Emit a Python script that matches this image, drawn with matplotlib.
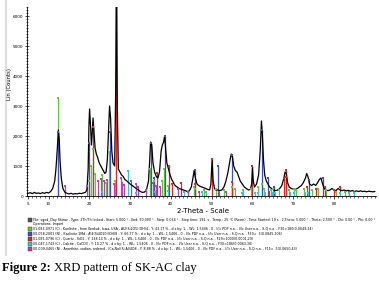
import matplotlib
matplotlib.use('Agg')
import matplotlib.pyplot as plt
from matplotlib.patches import Rectangle
from matplotlib.ticker import MultipleLocator, FixedLocator

two_theta = [5.0, 5.5, 6.0, 6.5, 7.0, 7.5, 8.0, 8.5, 9.0, 9.5, 10.0, 10.5, 11.0, 11.5, 11.8,
             12.1, 12.4, 12.6, 12.8, 13.1, 13.5, 14.0, 14.5, 15.0, 15.5, 16.0, 16.5, 17.0,
             17.5, 18.0, 18.5, 19.0, 19.4, 19.7, 19.9, 20.05, 20.3, 20.5, 20.7, 20.9, 21.1,
             21.4, 21.7, 22.0, 22.3, 22.6, 23.0, 23.4, 23.8, 24.1, 24.4, 24.7, 24.95, 25.2,
             25.5, 25.8, 26.2, 26.45, 26.65, 26.85, 27.1, 27.5, 27.9, 28.3, 28.7, 29.2, 29.6,
             30.0, 30.5, 31.0, 31.5, 32.0, 32.5, 33.0, 33.5, 34.0, 34.5, 34.8, 35.0, 35.3,
             35.6, 36.0, 36.4, 36.8, 37.2, 37.6, 37.9, 38.2, 38.45, 38.7, 39.0, 39.4, 39.8,
             40.2, 40.6, 41.0, 41.5, 42.0, 42.5, 43.0, 43.5, 44.0, 44.5, 45.0, 45.4, 45.7,
             46.0, 46.4, 46.8, 47.2, 47.6, 48.0, 48.5, 49.0, 49.5, 49.8, 50.1, 50.35, 50.7,
             51.0, 51.5, 52.0, 52.5, 53.0, 53.5, 54.0, 54.5, 54.8, 55.1, 55.4, 55.8, 56.2,
             56.6, 57.0, 57.5, 58.0, 58.5, 59.0, 59.5, 59.8, 60.0, 60.2, 60.5, 61.0, 61.5,
             61.9, 62.2, 62.45, 62.7, 63.0, 63.4, 63.8, 64.2, 64.7, 65.2, 65.7, 66.2, 66.7,
             67.2, 67.7, 68.0, 68.3, 68.6, 69.0, 69.5, 70.0, 70.5, 71.0, 71.5, 72.0, 72.5,
             73.0, 73.3, 73.6, 74.0, 74.5, 75.0, 75.5, 76.0, 76.4, 76.8, 77.2, 77.6, 78.0,
             78.5, 79.0, 79.5, 80.0, 80.5, 81.0, 81.5, 82.0, 82.5, 83.0, 83.5, 84.0, 84.5,
             85.0, 85.5, 86.0, 86.5, 87.0, 87.5, 88.0, 88.5, 89.0, 89.5, 90.0]
counts = [90, 110, 80, 120, 90, 100, 80, 110, 90, 120, 100, 150, 250, 500, 900,
          1500, 2200, 1900, 1200, 600, 250, 120, 90, 70, 90, 60, 80, 70,
          90, 80, 100, 120, 200, 900, 2400, 2900, 2300, 1700, 2100, 2600, 2200,
          1600, 1400, 1300, 1150, 1050, 950, 850, 750, 800, 1200, 2200, 3000, 2600,
          1500, 1100, 1000, 3500, 8000, 3000, 900, 800, 700, 650, 550, 500, 450,
          400, 350, 300, 250, 200, 150, 120, 130, 200, 500, 1200, 1800, 1700,
          1100, 800, 650, 600, 800, 1500, 1700, 1800, 2000, 1600, 1100, 900, 700,
          550, 450, 350, 300, 250, 230, 200, 180, 150, 170, 300, 600, 850,
          600, 400, 350, 320, 300, 280, 250, 220, 200, 400, 1200, 500, 250,
          200, 200, 180, 200, 300, 500, 800, 1200, 1400, 1300, 1000, 850, 800,
          650, 500, 400, 300, 250, 200, 220, 400, 950, 500, 300, 400, 700,
          1500, 2500, 2000, 1200, 700, 500, 400, 300, 250, 200, 180, 200, 250,
          350, 600, 800, 750, 450, 300, 250, 230, 220, 250, 300, 350, 450,
          600, 750, 650, 400, 350, 400, 350, 450, 550, 600, 400, 250, 200,
          180, 200, 250, 200, 180, 250, 200, 180, 200, 170, 190, 160, 180,
          150, 170, 150, 170, 150, 160, 140, 160, 150, 140, 150]

# reference sticks per phase
kaol_pos = [12.36, 19.9, 20.4, 20.9, 21.5, 23.1, 24.0, 24.9, 26.4, 34.9, 35.9, 37.7, 38.4, 39.3,
            45.6, 46.0, 48.0, 51.1, 53.0, 54.9, 55.6, 57.8, 59.6, 61.3, 62.3, 62.9, 64.6, 65.0,
            66.6, 68.9, 70.1, 70.8, 72.6, 74.5, 76.0, 78.1, 80.4, 82.6]
kaol_h = [3270, 500, 1000, 1560, 730, 700, 450, 1460, 500, 900, 500, 500, 900, 350,
          300, 250, 200, 250, 200, 300, 250, 200, 250, 300, 400, 250, 200, 250,
          200, 200, 250, 200, 250, 200, 250, 200, 150, 150]
kao1_pos = [12.4, 19.9, 24.95, 35.0, 35.9, 38.45, 45.8, 51.6, 55.0, 62.4, 63.8, 65.4, 73.9, 77.2]
kao1_h = [2150, 1770, 2150, 1770, 600, 2000, 870, 1000, 1370, 2200, 600, 300, 550, 600]
qtz_pos = [20.86, 26.64, 36.54, 39.47, 40.3, 42.45, 45.8, 50.14, 54.87, 59.96, 64.0, 67.74,
           68.14, 68.32, 73.46, 75.66, 77.67, 79.88, 81.5, 83.8, 84.9]
qtz_h = [2300, 12000, 770, 1000, 400, 450, 400, 1230, 470, 1000, 150, 600,
         860, 650, 300, 250, 300, 200, 300, 120, 150]
calc_pos = [23.0, 29.4, 31.4, 36.0, 39.4, 43.2, 47.5, 48.5, 57.4, 60.7, 61.4, 63.1, 64.7,
            65.6, 69.2, 70.3, 72.9, 73.7, 81.5, 83.8, 84.8]
calc_h = [120, 830, 100, 150, 180, 150, 150, 150, 100, 100, 100, 100, 100,
          100, 100, 100, 100, 100, 100, 100, 100]
anor_pos = [14.0, 19.4, 22.0, 22.8, 23.6, 24.3, 26.0, 27.8, 28.0, 28.6, 30.2, 31.5, 32.0,
            33.9, 35.7, 36.3, 37.2, 41.8, 44.3, 47.0, 51.9, 53.6]
anor_h = [330, 330, 500, 570, 500, 550, 400, 600, 450, 380, 500, 400, 300,
          200, 450, 350, 300, 250, 150, 150, 120, 120]

phase_colors = ['#5cc83a', '#3c4fc8', '#e8231e', '#2ec9c9', '#c03cb8']

legend_lines = [
    "File: sgnd_Clay Shiraz - Type: 2Th/Th locked - Start: 5.000 \u00b0 - End: 90.000 \u00b0 - Step: 0.034 \u00b0 - Step time: 192. s - Temp.: 25 \u00b0C (Room) - Time Started: 19 s - 2-Theta: 5.000 \u00b0 - Theta: 2.500 \u00b0 - Chi: 0.00 \u00b0 - Phi: 0.00 \u00b0",
    "Operations: Import",
    "01-083-0971 (C) - Kaolinite - from Keokuk, Iowa, USA - Al2(Si2O5)(OH)4 - Y: 43.17 % - d x by: 1. - WL: 1.5406 - 0 - I/Ic PDF n.a. - I/Ic User n.a. - S-Q n.a. - F30=180(0.0049,34)",
    "00-058-2001 (N) - Kaolinite 1Md - Al4(Si4O10)(OH)8 - Y: 66.77 % - d x by: 1. - WL: 1.5406 - 0 - I/Ic PDF n.a. - I/Ic User n.a. - S-Q n.a. - F30=  3(0.0845,106)",
    "01-085-0796 (C) - Quartz - SiO2 - Y: 138.14 % - d x by: 1. - WL: 1.5406 - 0 - I/Ic PDF n.a. - I/Ic User n.a. - S-Q n.a. - F29=1000(0.0001,29)",
    "00-047-1743 (C) - Calcite - CaCO3 - Y: 10.27 % - d x by: 1. - WL: 1.5406 - 0 - I/Ic PDF n.a. - I/Ic User n.a. - S-Q n.a. - F30=186(0.0063,30)",
    "00-009-0465 (N) - Anorthite, sodian, ordered - (Ca,Na)(Si,Al)4O8 - Y: 8.88 % - d x by: 1. - WL: 1.5406 - 0 - I/Ic PDF n.a. - I/Ic User n.a. - S-Q n.a. - F15=  5(0.0650,43)",
]
icon_colors = ['#555555', None] + phase_colors

W, H = 379, 284
fig = plt.figure(figsize=(W / 100, H / 100), dpi=100)
ax = fig.add_axes([27 / W, 1 - 196 / H, 349 / W, 189 / H])

phases = [(kaol_pos, kaol_h), (kao1_pos, kao1_h), (qtz_pos, qtz_h), (calc_pos, calc_h), (anor_pos, anor_h)]
for (pos, h), c in zip(phases, phase_colors):
    ax.vlines(pos, 0, h, color=c, lw=0.9, zorder=2)
    ax.plot(pos, h, 's', color=c, ms=1.6, mew=0, zorder=4)
ax.plot(two_theta, counts, color='black', lw=0.9, zorder=3)

ax.set_xlim(4.7, 90.3)
ax.set_ylim(0, 6300)
for s in ['top', 'right']:
    ax.spines[s].set_visible(False)
for s in ['left', 'bottom']:
    ax.spines[s].set_linewidth(0.6)
ax.xaxis.set_major_locator(FixedLocator([5, 10, 20, 30, 40, 50, 60, 70, 80]))
ax.xaxis.set_minor_locator(MultipleLocator(1))
ax.yaxis.set_major_locator(MultipleLocator(1000))
ax.yaxis.set_minor_locator(MultipleLocator(100))
ax.tick_params(axis='both', which='major', labelsize=3, length=2.5, width=0.5, pad=1.5)
ax.tick_params(axis='both', which='minor', length=1.2, width=0.4)
ax.tick_params(axis='y', which='both', direction='inout')

fig.text(10 / W, 1 - 84 / H, 'Lin (Counts)', rotation=90, fontsize=3.8, ha='center', va='center')
fig.text(203 / W, 1 - 211 / H, '2-Theta - Scale', fontsize=5, ha='center', va='center')

# light frame line on the left
fig.add_artist(plt.Line2D([6 / W, 6 / W], [1 - 255 / H, 1.0], color='#dddddd', lw=1.5))

ys = [220, 224.5, 229, 234, 239, 244, 249]
for txt, c, y in zip(legend_lines, icon_colors, ys):
    if c is not None:
        fig.add_artist(Rectangle((28 / W, 1 - (y + 2) / H), 4 / W, 4 / H, facecolor=c,
                                 edgecolor='#333333', lw=0.3))
    fig.text(33 / W, 1 - y / H, txt, fontsize=2.3, ha='left', va='center')

t1 = fig.text(2 / W, 1 - 268 / H, 'Figure 2:', fontsize=9, fontweight='bold',
              family='Liberation Serif', ha='left', va='center')
fig.canvas.draw()
bb = t1.get_window_extent()
fig.text((bb.x1 + 3) / W, 1 - 268 / H, 'XRD pattern of SK-AC clay', fontsize=9,
         family='Liberation Serif', ha='left', va='center')

fig.savefig('out.png', dpi=100)
